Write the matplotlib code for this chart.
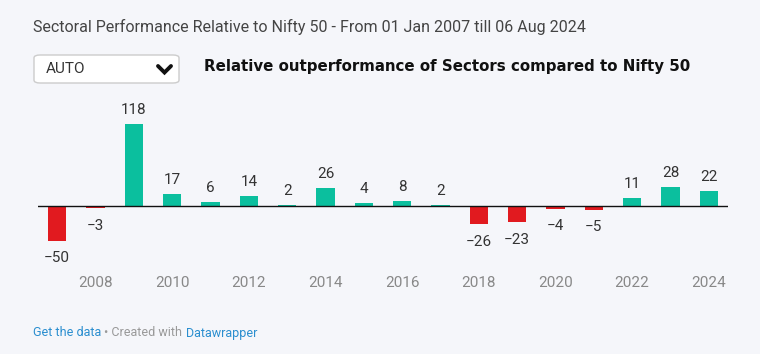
import matplotlib
matplotlib.use('Agg')
import matplotlib.pyplot as plt
from matplotlib.patches import FancyBboxPatch
from matplotlib.lines import Line2D

years = [2007, 2008, 2009, 2010, 2011, 2012, 2013, 2014, 2015, 2016,
         2017, 2018, 2019, 2020, 2021, 2022, 2023, 2024]
values = [-50, -3, 118, 17, 6, 14, 2, 26, 4, 8, 2, -26, -23, -4, -5, 11, 28, 22]
tick_years = [2008, 2010, 2012, 2014, 2016, 2018, 2020, 2022, 2024]

title = 'Sectoral Performance Relative to Nifty 50 - From 01 Jan 2007 till 06 Aug 2024'
subtitle = 'Relative outperformance of Sectors compared to Nifty 50'

bg = '#f5f6fa'
pos_col = '#0bbf9e'
neg_col = '#e11a1f'

plt.rcParams['font.family'] = ['Roboto', 'DejaVu Sans']

fig = plt.figure(figsize=(7.6, 3.54), dpi=100, facecolor=bg)
ax = fig.add_axes([38/760, 54/354, 690/760, 200/354])
ax.set_facecolor(bg)

colors = [pos_col if v >= 0 else neg_col for v in values]
ax.bar(years, values, width=0.47, color=colors, zorder=2)
ax.axhline(0, color='#111111', lw=1.0, zorder=3)
ax.set_xlim(2006.5, 2024.5)
ax.set_ylim(-135, 152.5)

for x, v in zip(years, values):
    if v >= 0:
        ax.annotate(f'{v}', (x, v), xytext=(0, 5), textcoords='offset points',
                    ha='center', va='bottom', fontsize=11, color='#333333')
    else:
        ax.annotate(f'\u2212{abs(v)}', (x, v), xytext=(0, -7.5), textcoords='offset points',
                    ha='center', va='top', fontsize=11, color='#333333')

for y in tick_years:
    ax.text(y, 0.085, str(y), transform=ax.get_xaxis_transform(),
            ha='center', va='center', fontsize=11, color='#888888')

ax.set_xticks([])
ax.set_yticks([])
for s in ax.spines.values():
    s.set_visible(False)

# header
fig.text(33/760, 1 - 27/354, title, fontsize=11.5, color='#444444', va='center', ha='left')

box = FancyBboxPatch((34/760, 1 - 83/354), 145/760, 28/354,
                     boxstyle='round,pad=0,rounding_size=0.008',
                     transform=fig.transFigure, facecolor='white',
                     edgecolor='#cccccc', lw=1)
fig.patches.append(box)
fig.text(46/760, 1 - 69/354, 'AUTO', fontsize=11, color='#333333', va='center')
chev = Line2D([158/760, 164.5/760, 171/760], [1 - 66/354, 1 - 72.5/354, 1 - 66/354],
              transform=fig.transFigure, color='#111111', lw=2.8,
              solid_capstyle='round', solid_joinstyle='miter')
fig.lines.append(chev)

fig.text(204/760, 1 - 66/354, subtitle, fontsize=10.8, fontweight='bold',
         color='#111111', va='center', family=['DejaVu Sans'])

# footer
t1 = fig.text(33/760, 1 - 333/354, 'Get the data', fontsize=9, color='#2a8ecf', va='center')
fig.canvas.draw()
r = fig.canvas.get_renderer()
bb = t1.get_window_extent(r)
t2 = fig.text(bb.x1/760 + 3/760, 1 - 333/354, '\u2022 Created with', fontsize=9,
              color='#999999', va='center')
bb2 = t2.get_window_extent(r)
fig.text(bb2.x1/760 + 4/760, 1 - 333/354, 'Datawrapper', fontsize=9, color='#2a8ecf', va='center')

fig.savefig('out.png', dpi=100, facecolor=bg)
